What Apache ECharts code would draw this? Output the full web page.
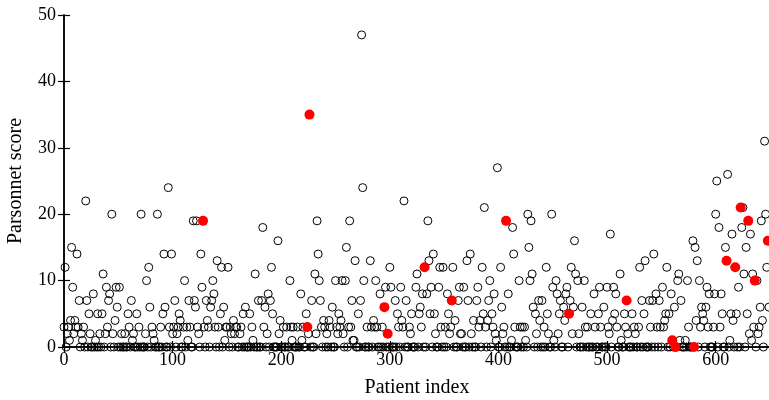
<!DOCTYPE html>
<html>
<head>
<meta charset="utf-8">
<script src="https://cdn.jsdelivr.net/npm/echarts@6/dist/echarts.min.js"></script>
<style>
  html, body { margin: 0; padding: 0; background: #fff; }
  #main { width: 769px; height: 400px; }
</style>
</head>
<body>
<div id="main"></div>
<script>
// Parsonnet score per patient index (0..649)
const scores = [
  3, 12, 0, 2, 3, 1, 4, 15, 9, 2,
  4, 3, 14, 3, 7, 0, 2, 1, 3, 0,
  22, 7, 0, 5, 2, 0, 0, 8, 0, 1,
  0, 5, 0, 2, 0, 5, 11, 0, 2, 9,
  3, 7, 8, 0, 20, 2, 0, 4, 9, 6,
  0, 9, 0, 2, 0, 0, 2, 0, 0, 5,
  3, 0, 7, 1, 2, 0, 0, 5, 0, 3,
  0, 20, 0, 0, 0, 2, 10, 0, 12, 6,
  0, 3, 2, 1, 0, 0, 20, 0, 0, 3,
  0, 5, 14, 6, 0, 0, 24, 3, 0, 14,
  2, 3, 7, 0, 2, 3, 5, 4, 0, 0,
  3, 10, 0, 3, 1, 7, 3, 0, 0, 19,
  7, 6, 19, 3, 2, 0, 14, 9, 19, 3,
  0, 7, 4, 3, 0, 6, 7, 10, 8, 3,
  0, 13, 3, 0, 5, 12, 0, 6, 1, 3,
  3, 12, 0, 3, 2, 0, 4, 2, 3, 3,
  0, 0, 2, 3, 0, 5, 0, 6, 0, 0,
  0, 5, 0, 3, 1, 0, 11, 0, 0, 7,
  0, 0, 7, 18, 3, 6, 0, 2, 8, 0,
  7, 12, 5, 0, 0, 0, 0, 16, 2, 4,
  0, 0, 3, 0, 0, 3, 0, 0, 10, 3,
  1, 3, 0, 0, 0, 3, 0, 0, 8, 1,
  3, 0, 0, 5, 3, 2, 35, 0, 7, 0,
  0, 11, 2, 19, 14, 10, 7, 3, 0, 4,
  3, 0, 2, 0, 4, 3, 0, 6, 0, 0,
  10, 3, 2, 5, 3, 4, 10, 2, 0, 10,
  15, 0, 3, 19, 3, 7, 1, 1, 13, 0,
  0, 5, 0, 7, 47, 24, 10, 0, 0, 3,
  0, 0, 13, 3, 0, 4, 3, 10, 3, 0,
  0, 8, 0, 3, 0, 6, 9, 0, 2, 0,
  12, 9, 0, 0, 0, 7, 0, 5, 3, 0,
  9, 4, 3, 22, 0, 7, 0, 0, 3, 2,
  5, 0, 0, 0, 9, 11, 0, 5, 6, 3,
  8, 0, 12, 0, 8, 19, 13, 5, 9, 0,
  14, 5, 2, 0, 0, 9, 12, 3, 0, 12,
  0, 3, 0, 8, 5, 2, 3, 7, 12, 0,
  4, 0, 0, 7, 9, 2, 2, 0, 9, 0,
  0, 13, 7, 0, 14, 2, 0, 4, 0, 0,
  7, 9, 3, 4, 0, 12, 5, 21, 3, 0,
  4, 7, 10, 0, 5, 3, 8, 2, 1, 27,
  0, 0, 12, 6, 2, 3, 0, 19, 0, 8,
  0, 0, 1, 18, 14, 3, 0, 0, 0, 10,
  3, 0, 3, 0, 3, 1, 0, 20, 15, 10,
  19, 11, 6, 0, 5, 2, 0, 7, 4, 0,
  7, 0, 3, 0, 12, 5, 2, 0, 0, 20,
  9, 1, 0, 10, 8, 2, 5, 7, 0, 0,
  6, 4, 8, 9, 0, 5, 7, 12, 2, 6,
  16, 11, 0, 10, 2, 0, 0, 6, 0, 10,
  3, 0, 3, 0, 0, 5, 0, 0, 8, 3,
  0, 0, 5, 9, 3, 0, 0, 6, 0, 0,
  9, 3, 2, 17, 0, 4, 9, 5, 8, 3,
  0, 0, 11, 1, 0, 0, 5, 3, 7, 2,
  0, 0, 0, 5, 0, 3, 2, 0, 0, 3,
  12, 0, 7, 0, 5, 13, 0, 0, 0, 7,
  3, 0, 7, 14, 0, 8, 3, 0, 7, 3,
  0, 9, 3, 4, 5, 12, 0, 5, 0, 8,
  1, 0, 6, 0, 0, 10, 11, 1, 7, 0,
  0, 0, 1, 0, 10, 3, 0, 0, 0, 16,
  0, 15, 4, 13, 0, 10, 3, 6, 5, 4,
  0, 6, 9, 3, 8, 0, 0, 0, 3, 8,
  20, 25, 0, 18, 3, 8, 5, 0, 0, 15,
  13, 26, 0, 1, 5, 17, 4, 0, 12, 5,
  0, 9, 0, 21, 18, 21, 11, 0, 15, 5,
  19, 2, 17, 1, 11, 3, 10, 0, 10, 2,
  3, 6, 19, 4, 0, 31, 20, 12, 16, 6
];

// patients drawn as filled red dots
const highlighted = [128, 224, 226, 295, 298, 332, 357, 407, 465, 518,
  560, 563, 580, 610, 618, 623, 630, 636, 648];

const xTicks = { min: 0, max: 650, interval: 100 };
const yTicks = { min: 0, max: 50, interval: 10 };

let openPts = [];
let redPts = [];
for (let i = 0; i < scores.length; i++) {
  if (highlighted.indexOf(i) >= 0) redPts.push([i, scores[i]]);
  else openPts.push([i, scores[i]]);
}

var myChart = echarts.init(document.getElementById('main'));

const font = 'Liberation Serif';
const line = { show: true, lineStyle: { color: '#000', width: 1.5 } };
const tick = { show: true, inside: true, length: 6, lineStyle: { color: '#000', width: 1.2 } };

var option = {
  animation: false,
  grid: { left: 64, top: 15, width: 706, height: 332, outerBoundsMode: 'none' },
  xAxis: [
    {
      type: 'value', position: 'bottom',
      min: xTicks.min, max: xTicks.max, interval: xTicks.interval,
      axisLine: line, axisTick: tick, splitLine: { show: false },
      axisLabel: { color: '#000', fontFamily: font, fontSize: 18, margin: 4, showMaxLabel: false },
      name: 'Patient index', nameLocation: 'middle', nameGap: 31,
      nameTextStyle: { color: '#000', fontFamily: font, fontSize: 20 }
    },
    {
      type: 'value', position: 'top',
      min: xTicks.min, max: xTicks.max, interval: xTicks.interval,
      axisLine: line, axisTick: tick, splitLine: { show: false },
      axisLabel: { show: false }
    }
  ],
  yAxis: [
    {
      type: 'value', position: 'left',
      min: yTicks.min, max: yTicks.max, interval: yTicks.interval,
      axisLine: line, axisTick: tick, splitLine: { show: false },
      axisLabel: { color: '#000', fontFamily: font, fontSize: 18, margin: 8 },
      name: 'Parsonnet score', nameLocation: 'middle', nameGap: 38, nameRotate: 90,
      nameTextStyle: { color: '#000', fontFamily: font, fontSize: 20 }
    },
    {
      type: 'value', position: 'right',
      min: yTicks.min, max: yTicks.max, interval: yTicks.interval,
      axisLine: line, axisTick: tick, splitLine: { show: false },
      axisLabel: { show: false }
    }
  ],
  series: [
    {
      type: 'scatter', data: openPts, symbol: 'circle', symbolSize: 8, clip: false,
      itemStyle: { color: 'rgba(0,0,0,0)', borderColor: '#000', borderWidth: 1, opacity: 1 }
    },
    {
      type: 'scatter', data: redPts, symbol: 'circle', symbolSize: 10, clip: false,
      itemStyle: { color: '#ff0000', opacity: 1 }
    }
  ]
};

myChart.setOption(option);
</script>
</body>
</html>
